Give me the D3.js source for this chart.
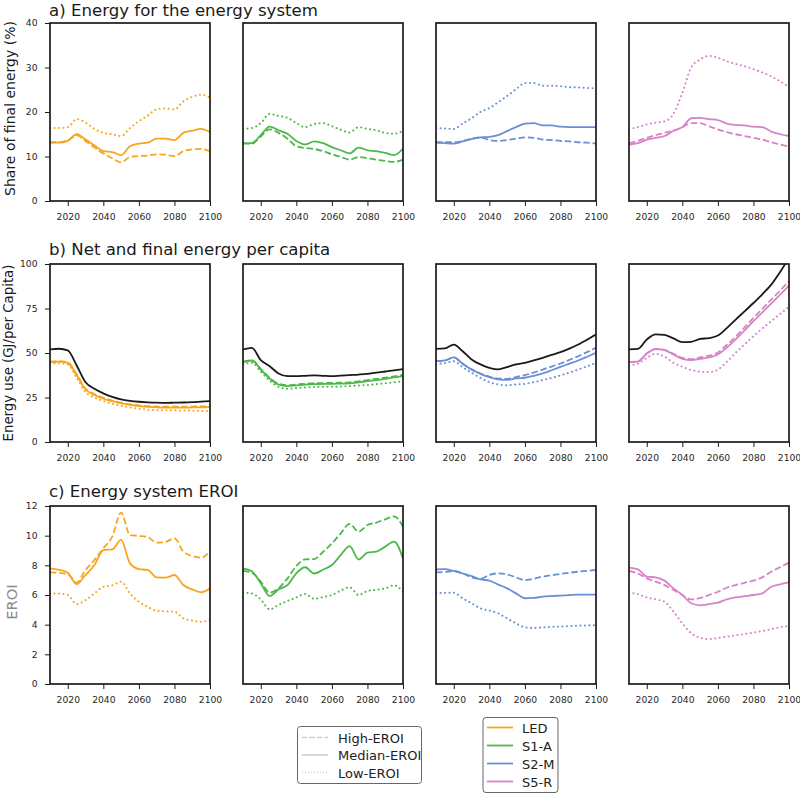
<!DOCTYPE html>
<html><head><meta charset="utf-8">
<script src="https://cdn.jsdelivr.net/npm/d3@7"></script>
<style>body{margin:0;background:#fff}svg{display:block}text{font-family:"DejaVu Sans",sans-serif}</style>
</head><body><svg id="c" width="800" height="794"></svg>
<script>
const years = [2010,2015,2020,2025,2030,2035,2040,2045,2050,2055,2060,2065,2070,2075,2080,2085,2090,2095,2100];
const scenarios = ["LED","S1-A","S2-M","S5-R"];
const scenarioColors = ["#f8a51e","#4bb849","#6a8fd6","#d683c8"];
const variants = ["High-EROI","Median-EROI","Low-EROI"];
const xTicks = [2020,2040,2060,2080,2100];
const titles = ["a) Energy for the energy system","b) Net and final energy per capita","c) Energy system EROI"];
const yLabels = ["Share of final energy (%)","Energy use (GJ/per Capita)","EROI"];
const yTicksA = [0,10,20,30,40];
const yTicksB = [0,25,50,75,100];
const yTicksC = [0,2,4,6,8,10,12];

// a) share of final energy (%)
const shareLED_high = [13.2,13.2,13.6,14.8,13.5,12.0,10.7,9.6,8.7,9.9,10.1,10.2,10.5,10.4,10.1,11.2,11.6,11.7,11.2];
const shareLED_med  = [13.1,13.1,13.5,15.0,13.8,12.5,11.2,11.0,10.3,12.3,12.9,13.1,14.0,14.0,13.7,15.3,15.8,16.2,15.5];
const shareLED_low  = [16.4,16.4,16.6,18.4,17.6,16.2,15.3,15.0,14.6,16.4,17.9,19.2,20.6,20.8,20.6,22.4,23.4,23.9,23.2];
const shareS1A_high = [13.0,12.9,14.5,16.1,15.3,14.0,12.3,11.9,11.7,11.2,10.5,9.9,9.3,9.9,9.6,9.3,9.0,8.8,9.3];
const shareS1A_med  = [12.9,13.0,14.8,16.7,15.9,15.1,13.5,12.7,13.4,13.0,12.1,11.4,10.7,12.0,11.4,11.2,10.8,10.3,11.8];
const shareS1A_low  = [16.2,16.4,17.5,19.6,19.1,18.7,17.5,16.6,17.3,17.5,16.8,16.0,15.4,16.6,16.2,15.9,15.3,15.1,15.8];
const shareS2M_high = [13.2,13.2,13.2,13.5,14.0,14.3,13.7,13.5,13.7,14.0,14.3,14.2,13.8,13.7,13.5,13.4,13.2,13.1,12.9];
const shareS2M_med  = [13.1,13.0,12.9,13.4,13.9,14.3,14.4,14.8,15.7,16.6,17.4,17.5,17.0,17.0,16.7,16.6,16.6,16.6,16.6];
const shareS2M_low  = [16.4,16.3,16.2,17.4,18.6,20.0,20.9,22.2,23.6,25.1,26.5,26.5,25.9,25.9,25.8,25.6,25.5,25.4,25.3];
const shareS5R_high = [13.0,13.5,14.2,14.8,15.3,15.8,16.6,17.5,17.5,16.8,16.1,15.5,15.0,14.6,14.2,13.8,13.2,12.7,12.2];
const shareS5R_med  = [12.7,13.0,13.8,14.2,14.6,15.8,16.6,18.6,18.7,18.4,18.2,17.4,17.1,17.0,16.7,16.6,15.6,15.0,14.6];
const shareS5R_low  = [16.2,16.6,17.2,17.6,17.9,19.6,24.3,30.0,31.8,32.6,32.2,31.4,30.8,30.3,29.6,28.9,28.0,26.9,25.6];

// b) energy per capita (GJ)
const finalLED  = [52.0,52.4,51.5,43.0,33.6,29.9,27.3,25.3,23.9,23.1,22.6,22.3,22.1,22.0,22.1,22.2,22.4,22.7,23.0];
const netLED_high = [45.1,45.4,44.8,38.0,30.0,26.9,24.8,23.3,22.1,21.2,20.6,20.2,19.9,19.8,19.8,19.8,19.9,20.0,20.1];
const netLED_med  = [44.9,45.2,44.5,37.5,29.5,26.4,24.3,22.9,21.7,20.8,20.2,19.7,19.4,19.3,19.3,19.3,19.4,19.5,19.6];
const netLED_low  = [43.9,44.3,43.5,36.2,28.0,25.0,23.0,21.5,20.3,19.4,18.7,18.2,17.9,17.8,17.8,17.7,17.6,17.5,17.4];
const finalS1A  = [52.0,52.9,46.0,42.6,38.5,37.0,37.0,37.2,37.4,37.2,37.0,37.3,37.6,37.9,38.3,39.0,39.6,40.2,41.0];
const netS1A_high = [45.1,46.0,41.0,36.0,32.7,31.9,32.3,32.7,33.0,33.1,33.2,33.3,33.5,34.1,34.8,35.4,36.1,36.9,37.7];
const netS1A_med  = [44.9,45.8,40.7,35.7,32.3,31.4,31.8,32.2,32.5,32.6,32.7,32.8,32.9,33.5,34.2,34.8,35.5,36.3,37.0];
const netS1A_low  = [43.6,44.5,39.5,34.5,31.0,29.9,30.3,30.6,30.9,31.0,31.0,31.2,31.4,31.7,32.0,32.5,33.0,33.5,34.1];
const finalS2M  = [52.3,52.6,54.7,51.0,46.4,43.6,41.7,40.8,42.1,43.6,44.5,45.8,47.3,48.9,50.5,52.5,54.8,57.5,60.4];
const netS2M_high = [45.4,45.8,47.5,44.0,40.8,38.5,36.7,35.6,35.5,36.5,37.6,39.0,40.7,42.4,44.1,46.1,48.2,50.5,52.9];
const netS2M_med  = [45.4,45.8,47.5,44.0,40.7,38.3,36.4,35.2,34.9,35.7,36.1,37.2,38.5,40.3,42.2,44.0,45.8,47.9,50.1];
const netS2M_low  = [43.9,44.3,45.3,42.0,38.9,36.0,33.6,32.3,31.9,32.3,32.7,33.6,34.8,36.0,37.4,39.0,40.7,42.5,44.5];
const finalS5R  = [52.0,52.3,57.6,60.5,60.2,58.2,56.1,56.3,57.9,58.4,59.8,64.0,68.8,73.4,78.1,83.0,88.4,95.5,103.5];
const netS5R_high = [45.0,45.2,49.7,52.3,51.8,49.5,47.2,46.6,47.5,48.5,50.3,54.5,59.2,64.4,69.7,74.8,80.0,85.1,90.3];
const netS5R_med  = [45.0,45.2,49.7,52.2,51.6,49.2,46.7,46.0,46.7,47.5,49.2,53.0,57.6,62.7,67.9,72.8,77.8,82.8,87.9];
const netS5R_low  = [43.0,44.0,47.3,49.5,48.0,44.5,42.3,40.4,39.5,39.3,40.7,45.0,50.1,54.8,59.4,63.8,67.9,72.0,75.9];

// c) EROI
const eroiLED_high = [7.53,7.50,7.40,6.83,7.69,8.36,9.15,9.93,11.55,10.04,9.98,9.90,9.53,9.58,9.82,8.92,8.63,8.52,8.92];
const eroiLED_med  = [7.80,7.70,7.50,6.74,7.35,8.02,9.03,9.08,9.71,8.13,7.75,7.69,7.19,7.17,7.35,6.67,6.38,6.18,6.45];
const eroiLED_low  = [6.11,6.10,6.00,5.39,5.66,6.10,6.56,6.65,6.90,6.10,5.55,5.20,4.94,4.90,4.88,4.43,4.28,4.20,4.31];
const eroiS1A_high = [7.62,7.50,6.90,6.16,6.45,7.12,7.96,8.40,8.42,8.90,9.48,10.16,10.79,10.27,10.72,10.88,11.10,11.30,10.60];
const eroiS1A_med  = [7.80,7.60,6.79,5.93,6.38,6.67,7.46,7.87,7.45,7.70,8.02,8.70,9.30,8.40,8.85,8.92,9.26,9.60,8.45];
const eroiS1A_low  = [6.16,6.10,5.70,5.03,5.33,5.60,5.84,6.07,5.75,5.85,6.00,6.30,6.52,6.00,6.27,6.35,6.45,6.65,6.22];
const eroiS2M_high = [7.53,7.55,7.62,7.46,7.19,7.08,7.35,7.46,7.39,7.19,7.00,7.10,7.24,7.33,7.42,7.50,7.57,7.63,7.69];
const eroiS2M_med  = [7.73,7.75,7.62,7.45,7.28,7.05,6.97,6.70,6.45,6.11,5.78,5.80,5.89,5.93,5.96,5.99,6.02,6.02,6.02];
const eroiS2M_low  = [6.11,6.15,6.15,5.78,5.45,5.10,4.95,4.76,4.42,4.09,3.82,3.78,3.82,3.85,3.87,3.90,3.93,3.95,3.96];
const eroiS5R_high = [7.62,7.45,7.12,6.90,6.67,6.34,6.00,5.70,5.80,6.00,6.22,6.49,6.67,6.82,6.97,7.19,7.57,7.88,8.18];
const eroiS5R_med  = [7.84,7.73,7.24,7.19,6.97,6.45,6.00,5.44,5.30,5.39,5.48,5.71,5.84,5.92,6.00,6.11,6.56,6.72,6.85];
const eroiS5R_low  = [6.18,6.05,5.84,5.70,5.55,4.88,4.09,3.42,3.12,3.03,3.10,3.19,3.28,3.37,3.47,3.57,3.70,3.82,3.93];

const rows = [
  {ticks:yTicksA, domain:[0,40], final:null,
   series:[[shareLED_high,shareLED_med,shareLED_low],[shareS1A_high,shareS1A_med,shareS1A_low],[shareS2M_high,shareS2M_med,shareS2M_low],[shareS5R_high,shareS5R_med,shareS5R_low]]},
  {ticks:yTicksB, domain:[0,100], final:[finalLED,finalS1A,finalS2M,finalS5R],
   series:[[netLED_high,netLED_med,netLED_low],[netS1A_high,netS1A_med,netS1A_low],[netS2M_high,netS2M_med,netS2M_low],[netS5R_high,netS5R_med,netS5R_low]]},
  {ticks:yTicksC, domain:[0,12], final:null,
   series:[[eroiLED_high,eroiLED_med,eroiLED_low],[eroiS1A_high,eroiS1A_med,eroiS1A_low],[eroiS2M_high,eroiS2M_med,eroiS2M_low],[eroiS5R_high,eroiS5R_med,eroiS5R_low]]}
];

const svg = d3.select("#c");
const panelLeft0 = 50, panelStep = 193, panelW = 160, panelH = 178;
const rowTops = [23, 264, 506];
const titleY = [15.5, 255, 497];
const labelX = [15, 12.5, 17];
const labelY = [108.5, 353, 602];
const labelSize = [14, 13.3, 14.7];
const dashFor = ["6.5,2.8", null, "1.6,3.2"];
const lw = 1.8;
const tickFont = "'DejaVu Sans Condensed', 'DejaVu Sans', sans-serif";

rows.forEach((row, r) => {
  const top = rowTops[r];
  svg.append("text").attr("x", 49).attr("y", titleY[r]).attr("font-size", 16.6)
    .attr("font-family", "'Liberation Sans', Arial, sans-serif").attr("fill", "#1a1a1a").text(titles[r]);
  svg.append("text")
    .attr("transform", `translate(${labelX[r]},${labelY[r]}) rotate(-90)`)
    .attr("text-anchor", "middle").attr("font-size", labelSize[r])
    .attr("font-family", "'Liberation Sans', Arial, sans-serif")
    .attr("fill", r===2 ? "#8a8a8a" : "#1a1a1a").text(yLabels[r]);
  scenarios.forEach((sc, c) => {
    const left = panelLeft0 + c * panelStep;
    const x = d3.scaleLinear().domain([2010, 2100]).range([left, left + panelW]);
    const y = d3.scaleLinear().domain(row.domain).range([top + panelH, top]);
    const g = svg.append("g");
    const clipId = `clip${r}${c}`;
    svg.append("clipPath").attr("id", clipId).append("rect")
      .attr("x", left).attr("y", top).attr("width", panelW).attr("height", panelH);
    const line = d3.line().x((d,i) => x(years[i])).y(d => y(d)).curve(d3.curveMonotoneX);
    const plot = g.append("g").attr("clip-path", `url(#${clipId})`);
    if (row.final) {
      plot.append("path").attr("d", line(row.final[c])).attr("fill", "none")
        .attr("stroke", "#1a1a1a").attr("stroke-width", lw);
    }
    [2,0,1].forEach(v => {
      const p = plot.append("path").attr("d", line(row.series[c][v])).attr("fill", "none")
        .attr("stroke", scenarioColors[c]).attr("stroke-width", lw);
      if (dashFor[v]) p.attr("stroke-dasharray", dashFor[v]);
      if (v === 2) p.attr("stroke-linecap", "round").attr("stroke-dasharray", "0.1,4.4").attr("stroke-width", 2);
    });
    const xa = g.append("g").attr("transform", `translate(0,${top + panelH})`)
      .call(d3.axisBottom(x).tickValues(xTicks).tickFormat(d3.format("d")).tickSize(5).tickPadding(7));
    xa.select(".domain").remove();
    xa.selectAll("text").attr("font-size", 9.2).attr("fill", "#262626").attr("font-family", tickFont);
    xa.selectAll("line").attr("stroke", "#1a1a1a");
    if (c === 0) {
      const ya = g.append("g").attr("transform", `translate(${left},0)`)
        .call(d3.axisLeft(y).tickValues(row.ticks).tickSize(5).tickPadding(7.5));
      ya.select(".domain").remove();
      ya.selectAll("text").attr("font-size", 9.2).attr("fill", "#262626").attr("font-family", tickFont);
      ya.selectAll("line").attr("stroke", "#1a1a1a");
    }
    g.append("rect").attr("x", left).attr("y", top).attr("width", panelW).attr("height", panelH)
      .attr("fill", "none").attr("stroke", "#1a1a1a").attr("stroke-width", 1.7);
  });
});

// legend 1: EROI variants
const lg1 = svg.append("g");
lg1.append("rect").attr("x", 297.5).attr("y", 726.5).attr("width", 124).attr("height", 57).attr("rx", 3)
  .attr("fill", "#fff").attr("stroke", "#555").attr("stroke-width", 0.9);
variants.forEach((v, i) => {
  const yy = 737.5 + i * 17.5;
  const l = lg1.append("line").attr("x1", 302).attr("x2", 328).attr("y1", yy).attr("y2", yy)
    .attr("stroke", "#cfcfcf").attr("stroke-width", 1.6);
  if (i === 0) l.attr("stroke-dasharray", "5,2.5");
  if (i === 2) l.attr("stroke-dasharray", "1,2");
  lg1.append("text").attr("x", 338).attr("y", yy + 5).attr("font-size", 13).attr("fill", "#222").text(v);
});
// legend 2: scenarios
const lg2 = svg.append("g");
lg2.append("rect").attr("x", 483).attr("y", 717.5).attr("width", 75).attr("height", 75).attr("rx", 3)
  .attr("fill", "#fff").attr("stroke", "#555").attr("stroke-width", 0.9);
scenarios.forEach((s, i) => {
  const yy = 727.5 + i * 18;
  lg2.append("line").attr("x1", 487).attr("x2", 513).attr("y1", yy).attr("y2", yy)
    .attr("stroke", scenarioColors[i]).attr("stroke-width", 1.8);
  lg2.append("text").attr("x", 522).attr("y", yy + 5).attr("font-size", 13).attr("fill", "#222").text(s);
});
</script></body></html>
